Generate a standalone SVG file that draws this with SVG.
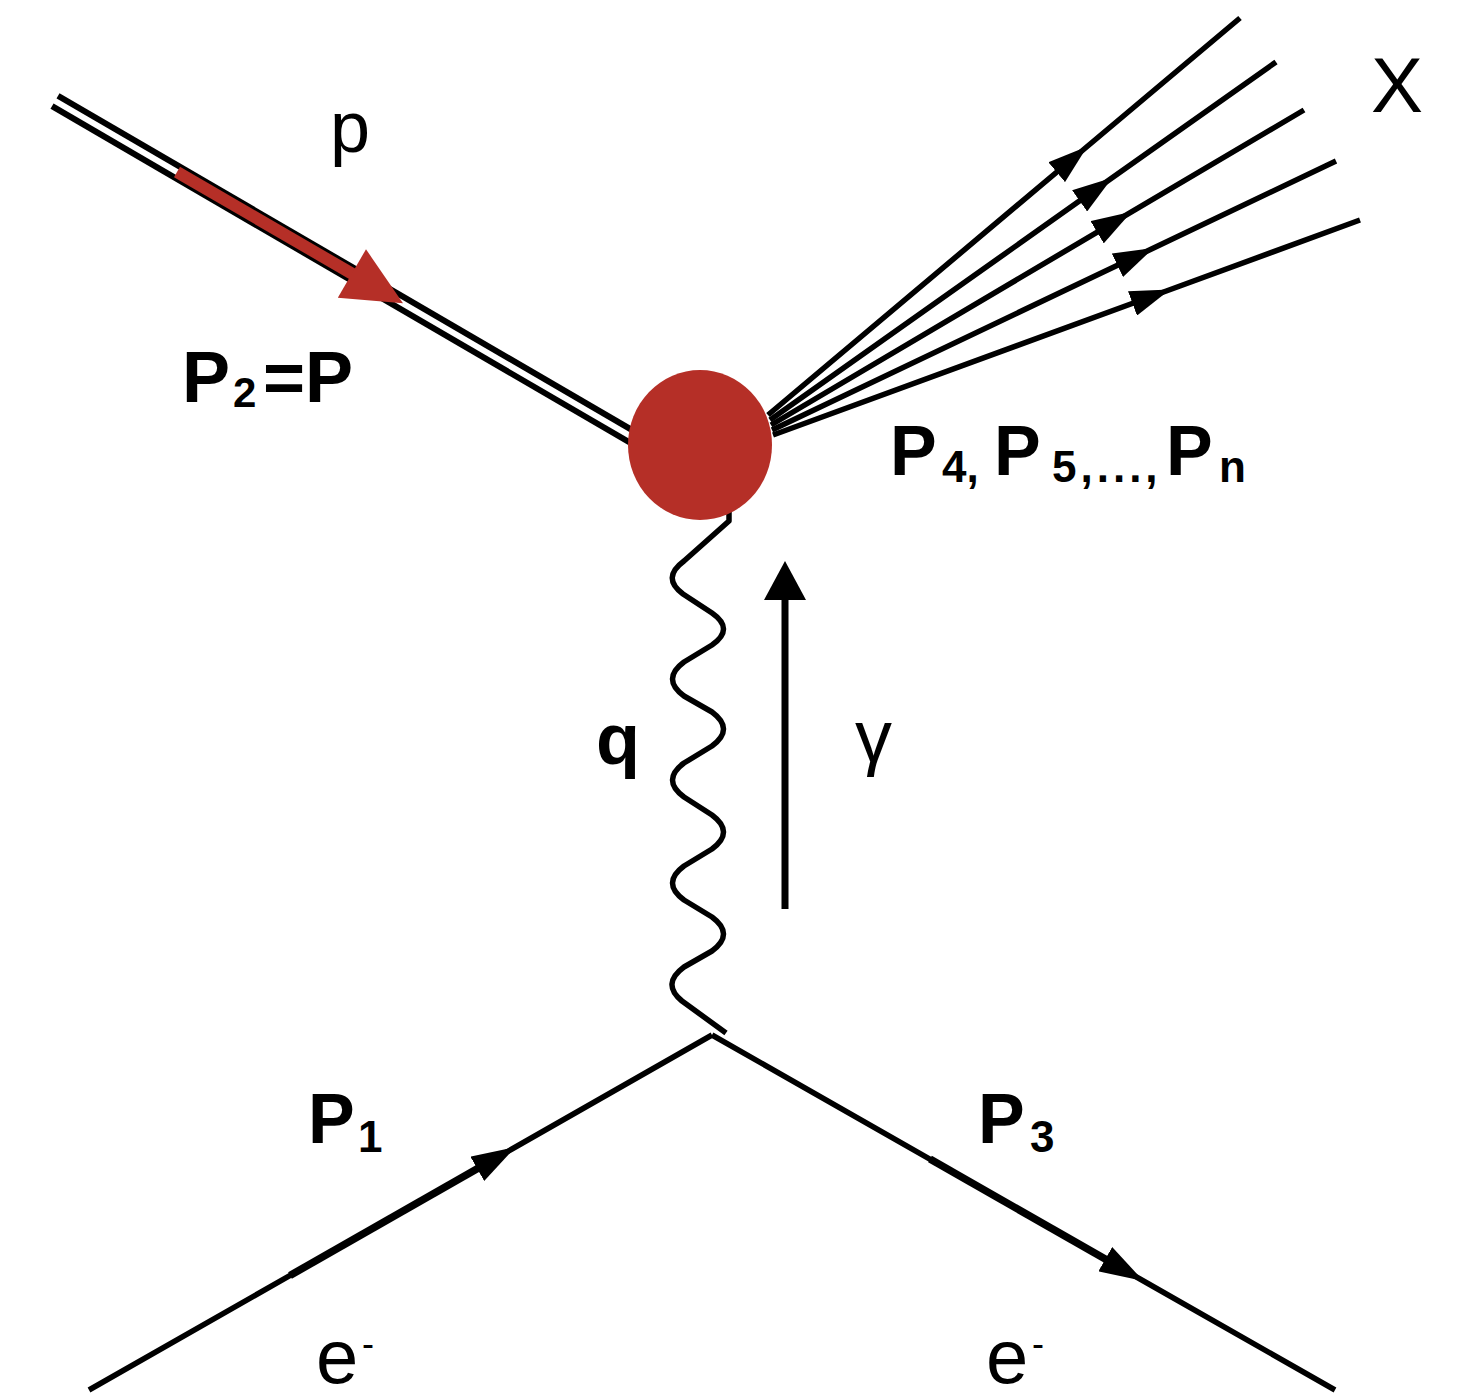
<svg xmlns="http://www.w3.org/2000/svg" width="1461" height="1399" viewBox="0 0 1461 1399">
<style>
.ln{fill:none;stroke:#000;stroke-width:5.5;stroke-linecap:butt}
.thick{fill:none;stroke:#000;stroke-width:7.5}
.lbl{font-family:"Liberation Sans",Arial,sans-serif;fill:#000}
.b{font-weight:bold}
</style>
<defs>
<marker id="ah" markerUnits="userSpaceOnUse" viewBox="0 0 40 26" refX="36" refY="13" markerWidth="40" markerHeight="26" orient="auto">
<path d="M0,0 L40,13 L0,26 Z" fill="#000"/>
</marker>
<marker id="ahb" markerUnits="userSpaceOnUse" viewBox="0 0 44 28" refX="40" refY="14" markerWidth="44" markerHeight="28" orient="auto">
<path d="M0,0 L44,14 L0,28 Z" fill="#000"/>
</marker>
</defs>
<rect width="1461" height="1399" fill="#fff"/>
<g id="connectors">
<g id="proton-line">
<line x1="55" y1="101" x2="640" y2="441.5" stroke="#000" stroke-width="18"/>
<line x1="50" y1="98" x2="645" y2="444.5" stroke="#fff" stroke-width="6"/>
<line x1="177" y1="172" x2="356" y2="276" stroke="#b52f27" stroke-width="12"/>
<polygon points="403,303.2 337.8,297.7 366,249.3" fill="#b52f27"/>
</g>
<g id="outgoing">
<path class="ln" d="M768,415 L1084.2,149 L1240,18" marker-mid="url(#ah)"/>
<path class="ln" d="M770,420 L1109,180.1 L1276,62" marker-mid="url(#ah)"/>
<path class="ln" d="M771,425 L1128.1,213.9 L1304,110" marker-mid="url(#ah)"/>
<path class="ln" d="M772,430 L1149.9,249.8 L1336,161" marker-mid="url(#ah)"/>
<path class="ln" d="M773,435 L1166.3,291 L1360,220" marker-mid="url(#ah)"/>
</g>
<path id="photon" fill="none" stroke="#000" stroke-width="5.5" stroke-linejoin="round" d="M729,512 L729,521 L684,561 Q661,578 683,594 L712,613 Q735,629 712,645 L684,662 Q661,679 684,696 L712,712 Q735,729 712,746 L684,763 Q661,780 684,797 L712,815 Q735,832 712,849 L684,866 Q661,883 684,900 L712,917 Q735,934 712,951 L684,967 Q661,984 682,1001 L726,1033"/>
<g id="electron-in">
<path class="ln" d="M89,1390 L512,1149 L712,1035" marker-mid="url(#ahb)"/>
<line class="thick" x1="290" y1="1275.5" x2="500" y2="1155.8"/>
</g>
<g id="electron-out">
<path class="ln" d="M712,1035 L1140,1279 L1335,1390" marker-mid="url(#ahb)"/>
<line class="thick" x1="930" y1="1159" x2="1128" y2="1272"/>
</g>
<g id="gamma-arrow">
<line x1="785" y1="909" x2="785" y2="596" stroke="#000" stroke-width="7"/>
<polygon points="785,561 764,600 806,600" fill="#000"/>
</g>
</g>
<g id="node-blob">
<ellipse cx="700" cy="445" rx="72" ry="75" fill="#b52f27"/>
</g>
<g id="labels">
<text id="label-p" class="lbl" x="330" y="152" font-size="72">p</text>
<text id="label-P2" class="lbl b"><tspan x="182" y="402" font-size="72">P</tspan><tspan x="233" y="407" font-size="42">2</tspan><tspan x="263" y="402" font-size="72">=P</tspan></text>
<text id="label-X" class="lbl" x="1371" y="112" font-size="78">X</text>
<text id="label-P4n" class="lbl b"><tspan x="890" y="475" font-size="70">P</tspan><tspan x="942" y="482" font-size="44">4,</tspan><tspan x="994" y="475" font-size="70">P</tspan><tspan x="1052" y="482" font-size="44" letter-spacing="4">5,...,</tspan><tspan x="1166" y="475" font-size="70">P</tspan><tspan x="1219" y="482" font-size="44">n</tspan></text>
<text id="label-q" class="lbl b" x="596" y="764" font-size="72">q</text>
<text id="label-gamma" class="lbl" x="855" y="762" font-size="74">γ</text>
<text id="label-P1" class="lbl b"><tspan x="308" y="1143" font-size="70">P</tspan><tspan x="358" y="1152" font-size="44">1</tspan></text>
<text id="label-P3" class="lbl b"><tspan x="978" y="1143" font-size="70">P</tspan><tspan x="1030" y="1152" font-size="44">3</tspan></text>
<text id="label-e-in" class="lbl"><tspan x="316" y="1383" font-size="76">e</tspan><tspan x="362" y="1356" font-size="36">-</tspan></text>
<text id="label-e-out" class="lbl"><tspan x="986" y="1383" font-size="76">e</tspan><tspan x="1032" y="1356" font-size="36">-</tspan></text>
</g>
</svg>
